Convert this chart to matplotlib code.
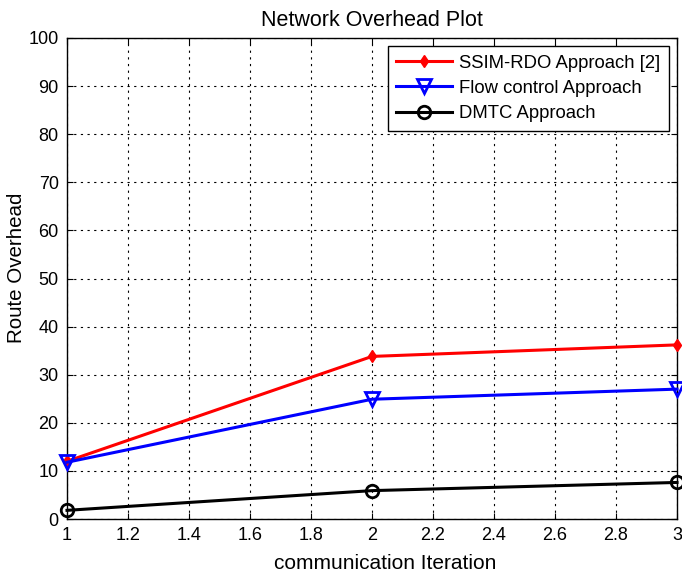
import numpy as np
import matplotlib.pyplot as plt

plt.rcParams['font.family'] = ['Liberation Sans', 'DejaVu Sans']

iterations = [1, 2, 3]
ssim_rdo = [12.0, 33.8, 36.2]
flow_control = [11.8, 24.9, 27.0]
dmtc = [1.8, 5.9, 7.6]

fig = plt.figure(figsize=(6.82, 5.75), dpi=100)
ax = fig.add_axes([67/682, 56/575, 610/682, 481/575])

ax.plot(iterations, ssim_rdo, color='red', lw=2.2, marker='d', ms=6,
        mfc='red', mec='red', label='SSIM-RDO Approach [2]', clip_on=False, zorder=3)
ax.plot(iterations, flow_control, color='blue', lw=2.2, marker='v', ms=10,
        mfc='none', mec='blue', mew=2, label='Flow control Approach', clip_on=False, zorder=3)
ax.plot(iterations, dmtc, color='black', lw=2.2, marker='o', ms=9,
        mfc='none', mec='black', mew=2, label='DMTC Approach', clip_on=False, zorder=3)

ax.set_xlim(1, 3)
ax.set_ylim(0, 100)
ax.set_xticks(np.arange(1, 3.01, 0.2))
ax.set_xticklabels(['1', '1.2', '1.4', '1.6', '1.8', '2', '2.2', '2.4', '2.6', '2.8', '3'])
ax.set_yticks(np.arange(0, 101, 10))
ax.tick_params(direction='in', top=True, right=True, labelsize=13, length=4, pad=6)
ax.grid(True, linestyle=(0, (2, 4)), color='black', lw=0.8)
for s in ax.spines.values():
    s.set_linewidth(1.0)

ax.set_title('Network Overhead Plot', fontsize=15.5, pad=9)
ax.set_xlabel('communication Iteration', fontsize=15)
ax.set_ylabel('Route Overhead', fontsize=14.8)
# matlab puts the labels a bit off centre
ax.xaxis.set_label_coords(0.521, -0.072)
ax.yaxis.set_label_coords(-0.068, 0.522)

leg = ax.legend(loc='upper right', fontsize=13.3, fancybox=False, framealpha=1,
                edgecolor='black', borderaxespad=0.45, handlelength=3.0,
                handletextpad=0.4, labelspacing=0.45, borderpad=0.45)
leg.get_frame().set_linewidth(1.0)

fig.savefig('out.png', dpi=100)
